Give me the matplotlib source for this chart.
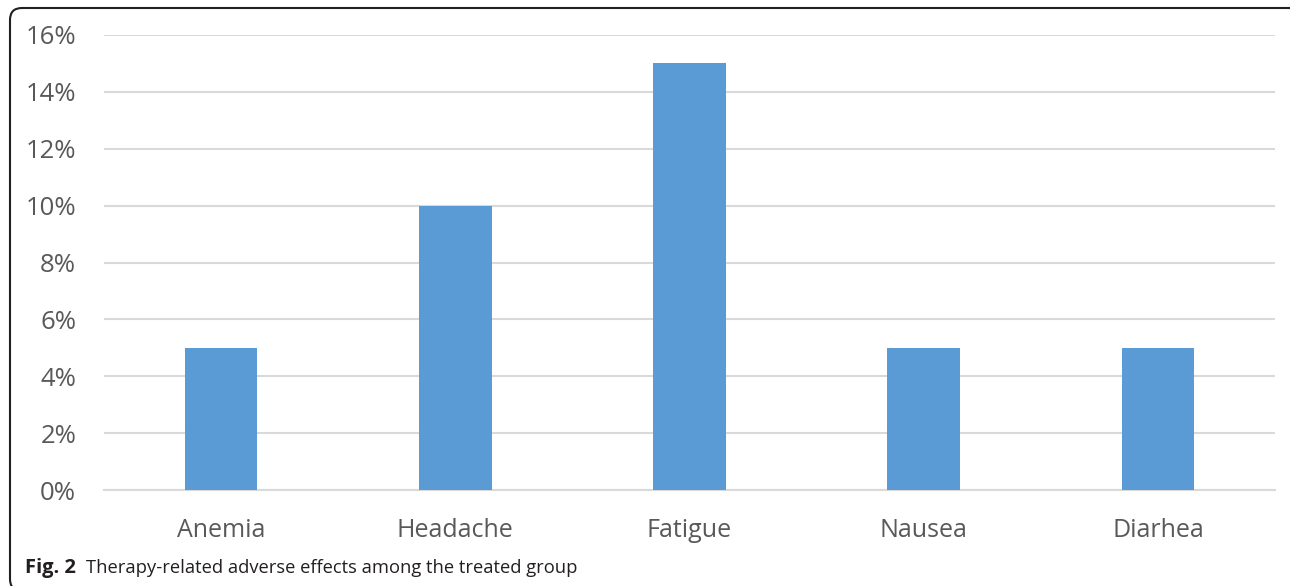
import matplotlib.pyplot as plt
from matplotlib.patches import FancyBboxPatch
from matplotlib.transforms import IdentityTransform
from matplotlib.ticker import PercentFormatter

categories = ["Anemia", "Headache", "Fatigue", "Nausea", "Diarhea"]
values = [5, 10, 15, 5, 5]
yticks = [0, 2, 4, 6, 8, 10, 12, 14, 16]

plt.rcParams['font.family'] = ['Open Sans', 'DejaVu Sans']

fig = plt.figure(figsize=(12.9, 5.86), dpi=100)
ax = fig.add_axes([104 / 1290, 1 - 490 / 586, (1275 - 104) / 1290, (490 - 35) / 586])

# bars
ax.bar(range(len(categories)), values, width=0.31, color="#5b9bd5", zorder=3)

ax.set_xlim(-0.5, len(categories) - 0.5)
ax.set_ylim(0, 16)
ax.set_yticks(yticks)
ax.yaxis.set_major_formatter(PercentFormatter(decimals=0))
ax.set_xticks(range(len(categories)))
ax.set_xticklabels(categories)

# grid and spines
ax.grid(axis="y", color="#d9d9d9", linewidth=1.5, zorder=0)
for s in ["top", "right", "left"]:
    ax.spines[s].set_visible(False)
ax.spines["bottom"].set_color("#d9d9d9")
ax.spines["bottom"].set_linewidth(1.5)
ax.tick_params(axis="both", length=0, labelcolor="#595959")
ax.tick_params(axis="y", labelsize=18.5, pad=20)
ax.tick_params(axis="x", labelsize=18, pad=20)

# caption
fig.text(25 / 1290, 1 - 568 / 586, "Fig. 2", fontsize=14.5, fontweight="bold",
         color="#231f20", va="center", ha="left")
fig.text(86 / 1290, 1 - 568 / 586, "Therapy-related adverse effects among the treated group",
         fontsize=13.2, color="#231f20", va="center", ha="left")

# rounded border, right and bottom edges run off the image
border = FancyBboxPatch((10, -5), 1292, 583,
                        boxstyle="round,pad=0,rounding_size=12",
                        transform=IdentityTransform(), fill=False,
                        edgecolor="#231f20", linewidth=1.5)
fig.patches.append(border)

fig.savefig("out.png", dpi=100)
